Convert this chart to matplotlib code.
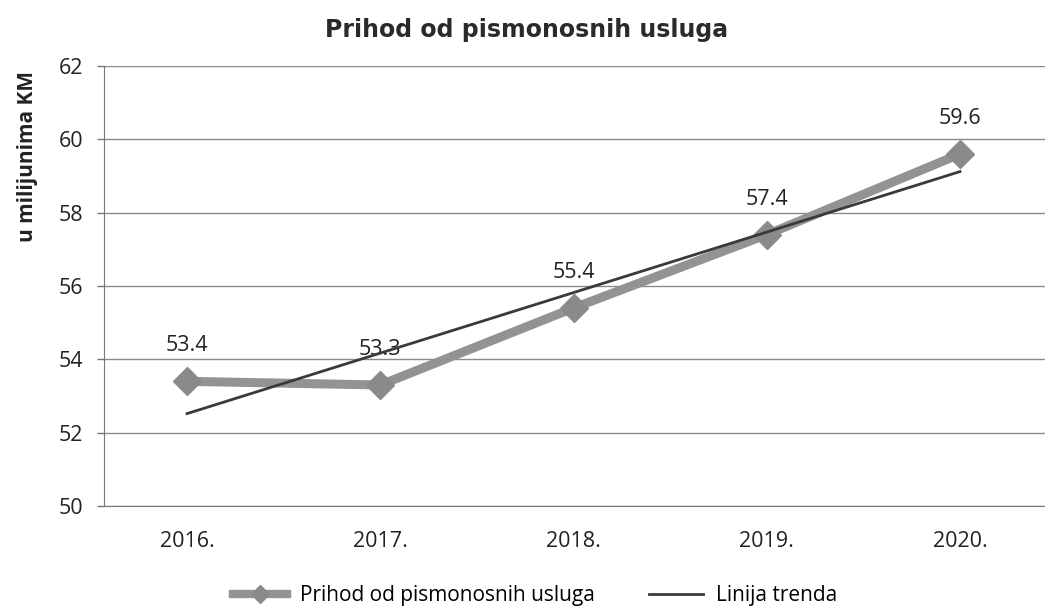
import numpy as np
import matplotlib.pyplot as plt
from matplotlib.lines import Line2D

# podaci
godine = ["2016.", "2017.", "2018.", "2019.", "2020."]
prihod = [53.4, 53.3, 55.4, 57.4, 59.6]
y_ticks = [50, 52, 54, 56, 58, 60, 62]

plt.rcParams['font.family'] = ['Open Sans', 'DejaVu Sans']

fig = plt.figure(figsize=(10.45, 6.12), dpi=100)
ax = fig.add_axes([104/1045, 1-506/612, 1-104/1045, (506-66)/612])

x = np.arange(len(godine))
# linearni trend (kao Excel)
k, n = np.polyfit(x, prihod, 1)
trend = k * x + n

ax.plot(x, prihod, color='#939393', lw=6.5, solid_capstyle='butt',
        marker='D', markersize=14, markerfacecolor='#8a8a8a',
        markeredgecolor='#8a8a8a', zorder=3)
ax.plot(x, trend, color='#3a3a3a', lw=2, zorder=4)

for xi, v in zip(x, prihod):
    ax.annotate(f"{v}", (xi, v), xytext=(0, 18), textcoords='offset points',
                ha='center', va='bottom', fontsize=15.5, color='#222222')

ax.set_xlim(-0.43, 4.44)
ax.set_ylim(50, 62)
ax.set_yticks(y_ticks)
ax.set_xticks(x)
ax.set_xticklabels(godine)
ax.tick_params(axis='x', length=0, pad=18, labelsize=15.5, colors='#222222')
ax.tick_params(axis='y', length=5, width=1, color='#777777', pad=10,
               labelsize=15.5, colors='#222222')
ax.grid(axis='y', color='#8a8a8a', lw=1)
ax.set_axisbelow(True)
for s in ['top', 'right']:
    ax.spines[s].set_visible(False)
ax.spines['left'].set_color('#777777')
ax.spines['bottom'].set_color('#777777')

fig.text(527/1045, 1-30/612, "Prihod od pismonosnih usluga", ha='center',
         va='center', fontsize=17, fontweight='bold',
         family=['DejaVu Sans'], color='#2a2a2a')
fig.text(28/1045, 1-156/612, "u milijunima KM", rotation=90, ha='center',
         va='center', fontsize=15, fontweight='bold',
         family=['Open Sans', 'DejaVu Sans'], color='#222222')

handles = [Line2D([], [], color='#939393', lw=6, marker='D', markersize=9,
                  markerfacecolor='#8a8a8a', markeredgecolor='#8a8a8a'),
           Line2D([], [], color='#3a3a3a', lw=2)]
fig.legend(handles, ["Prihod od pismonosnih usluga", "Linija trenda"],
           loc='center', bbox_to_anchor=(535/1045, 1-596/612), ncol=2,
           frameon=False, fontsize=15, handlelength=2.6, columnspacing=2.6,
           handletextpad=0.6)

fig.savefig("out.png", dpi=100)
